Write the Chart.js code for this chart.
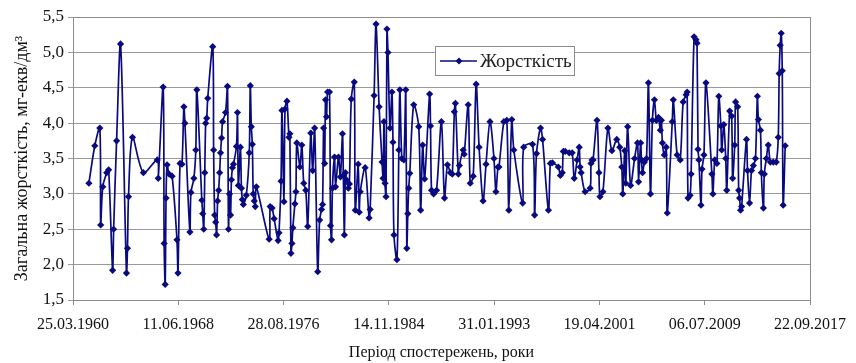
<!DOCTYPE html>
<html>
<head>
<meta charset="utf-8">
<title>Жорсткість</title>
<script src="https://cdn.jsdelivr.net/npm/chart.js@4/dist/chart.umd.min.js"></script>
<style>
  html, body { margin: 0; padding: 0; background: #fff; }
  #wrap { width: 856px; height: 363px; }
</style>
</head>
<body>
<div id="wrap"><canvas id="hardnessChart"></canvas></div>
<script>
// Observation dates as decimal years, hardness values (mg-eq/dm3)
const obsYears = [
  1961.47, 1961.93, 1962.32, 1962.39, 1962.55, 1962.86, 1963.01, 1963.32, 1963.40, 1963.63,
  1963.94, 1964.40, 1964.48, 1964.56, 1964.87, 1965.72, 1966.80, 1966.88, 1967.26, 1967.34,
  1967.42, 1967.49, 1967.57, 1967.73, 1967.96, 1968.34, 1968.42, 1968.58, 1968.73, 1968.88,
  1968.96, 1969.35, 1969.43, 1969.66, 1969.81, 1969.89, 1970.28, 1970.35, 1970.43, 1970.51,
  1970.58, 1970.66, 1970.74, 1971.13, 1971.20, 1971.28, 1971.36, 1971.43, 1971.51, 1971.59,
  1971.67, 1971.74, 1971.82, 1971.90, 1972.13, 1972.28, 1972.36, 1972.44, 1972.52, 1972.59,
  1972.67, 1972.75, 1972.98, 1973.06, 1973.13, 1973.29, 1973.37, 1973.44, 1973.52, 1973.75,
  1973.98, 1974.06, 1974.14, 1974.22, 1974.29, 1974.37, 1974.45, 1974.53, 1975.53, 1975.61,
  1975.76, 1975.92, 1976.23, 1976.30, 1976.46, 1976.53, 1976.69, 1976.77, 1976.92, 1977.08,
  1977.15, 1977.23, 1977.31, 1977.38, 1977.54, 1977.62, 1977.69, 1977.93, 1978.08, 1978.23,
  1978.39, 1978.54, 1978.78, 1978.93, 1979.08, 1979.32, 1979.47, 1979.62, 1979.70, 1979.78,
  1979.86, 1979.93, 1980.01, 1980.09, 1980.24, 1980.32, 1980.40, 1980.47, 1980.63, 1980.71,
  1980.94, 1981.09, 1981.25, 1981.32, 1981.40, 1981.48, 1981.56, 1981.71, 1981.79, 1981.94,
  1982.17, 1982.25, 1982.48, 1982.56, 1982.64, 1983.02, 1983.33, 1983.41, 1983.72, 1983.87,
  1984.11, 1984.34, 1984.42, 1984.49, 1984.57, 1984.65, 1984.72, 1984.80, 1984.96, 1985.11,
  1985.19, 1985.27, 1985.50, 1985.65, 1985.73, 1985.88, 1986.04, 1986.19, 1986.27, 1986.35,
  1986.42, 1986.50, 1986.81, 1987.20, 1987.35, 1987.51, 1987.66, 1988.05, 1988.12, 1988.20,
  1988.36, 1988.59, 1988.97, 1989.21, 1989.44, 1989.67, 1989.82, 1989.98, 1990.06, 1990.29,
  1990.37, 1990.67, 1990.75, 1991.06, 1991.22, 1991.45, 1991.68, 1991.91, 1992.22, 1992.45,
  1992.76, 1993.07, 1993.22, 1993.38, 1993.46, 1993.84, 1994.07, 1994.23, 1994.46, 1994.62,
  1995.31, 1995.39, 1996.08, 1996.24, 1996.39, 1996.70, 1996.86, 1997.32, 1997.47, 1997.63,
  1998.09, 1998.25, 1998.40, 1998.48, 1998.63, 1998.94, 1999.17, 1999.33, 1999.56, 1999.72,
  1999.79, 1999.87, 2000.18, 2000.57, 2000.64, 2000.72, 2000.80, 2001.11, 2001.26, 2001.34,
  2001.57, 2001.96, 2002.27, 2002.65, 2002.88, 2003.04, 2003.12, 2003.27, 2003.35, 2003.50,
  2003.73, 2004.04, 2004.27, 2004.35, 2004.51, 2004.58, 2004.66, 2004.81, 2004.97, 2005.12,
  2005.28, 2005.43, 2005.59, 2005.74, 2005.90, 2006.05, 2006.13, 2006.21, 2006.36, 2006.51,
  2006.59, 2006.98, 2007.06, 2007.36, 2007.60, 2007.83, 2008.06, 2008.14, 2008.21, 2008.37,
  2008.45, 2008.68, 2008.83, 2008.91, 2008.99, 2009.06, 2009.22, 2009.30, 2009.45, 2009.61,
  2010.07, 2010.15, 2010.30, 2010.46, 2010.61, 2010.77, 2010.84, 2011.00, 2011.15, 2011.23,
  2011.46, 2011.61, 2011.69, 2011.85, 2011.92, 2012.08, 2012.16, 2012.23, 2012.31, 2012.39,
  2012.77, 2012.85, 2013.01, 2013.16, 2013.31, 2013.47, 2013.62, 2013.70, 2013.86, 2013.93,
  2014.09, 2014.16, 2014.32, 2014.47, 2014.63, 2014.86, 2015.09, 2015.25, 2015.32, 2015.40,
  2015.48, 2015.56, 2015.63, 2015.79
];

const hardness = [
  3.15, 3.68, 3.93, 2.56, 3.10, 3.30, 3.34, 1.92, 2.50, 3.75,
  5.12, 1.88, 2.23, 2.96, 3.80, 3.30, 3.48, 3.22, 4.51, 2.30,
  1.72, 2.94, 3.41, 3.28, 3.25, 2.35, 1.88, 3.43, 3.42, 4.23,
  4.00, 2.46, 3.02, 3.22, 3.62, 4.47, 2.91, 2.72, 2.50, 3.30,
  4.00, 4.07, 4.35, 5.08, 3.62, 2.70, 2.60, 2.42, 2.90, 3.05,
  3.30, 3.58, 3.79, 4.02, 4.15, 4.52, 2.50, 3.00, 2.70, 3.20,
  3.37, 3.42, 3.67, 4.15, 3.12, 3.66, 3.08, 2.92, 2.85, 2.98,
  3.58, 4.53, 3.95, 3.70, 3.00, 2.90, 2.82, 3.10, 2.36, 2.82,
  2.80, 2.65, 2.34, 2.45, 3.18, 4.18, 2.89, 4.20, 4.31, 3.80,
  3.85, 2.16, 2.30, 2.52, 2.86, 3.03, 3.72, 3.38, 3.69, 3.15,
  3.05, 2.54, 3.86, 3.33, 3.93, 1.90, 2.63, 2.78, 2.85, 3.93,
  3.43, 4.33, 4.09, 4.44, 4.44, 2.55, 2.35, 3.08, 3.52, 3.10,
  3.52, 3.24, 3.85, 3.26, 2.42, 3.30, 3.20, 3.08, 3.14, 4.34,
  4.58, 2.77, 3.42, 2.74, 3.03, 3.37, 2.66, 2.78, 4.39, 5.40,
  4.23, 3.45, 3.22, 4.02, 3.15, 2.96, 5.33, 5.00, 3.93, 4.44,
  3.73, 2.42, 2.07, 3.62, 4.47, 3.50, 3.48, 4.47, 2.23, 2.72,
  3.08, 3.29, 4.26, 3.95, 2.77, 3.69, 3.21, 4.41, 3.96, 3.05,
  3.00, 3.05, 4.02, 2.94, 3.41, 3.30, 3.28, 4.16, 4.28, 3.28,
  3.40, 3.62, 3.56, 4.26, 3.15, 3.25, 4.55, 3.66, 2.90, 3.42,
  4.02, 3.50, 3.03, 3.38, 3.38, 4.02, 4.04, 2.77, 4.05, 3.62,
  2.87, 3.66, 3.70, 2.70, 3.57, 3.93, 3.77, 2.77, 3.43, 3.44,
  3.38, 3.26, 3.30, 3.60, 3.60, 3.58, 3.58, 3.22, 3.48, 3.66,
  3.38, 3.30, 3.03, 3.08, 3.43, 3.48, 3.48, 4.04, 3.30, 2.96,
  3.03, 3.93, 3.61, 3.77, 3.66, 3.38, 3.00, 3.61, 3.15, 3.95,
  3.12, 3.50, 3.72, 3.17, 3.72, 3.48, 3.30, 3.45, 3.50, 4.57,
  3.00, 4.04, 4.33, 4.04, 4.08, 3.90, 4.04, 3.72, 3.55, 3.66,
  2.73, 4.02, 4.33, 3.55, 3.48, 4.30, 4.40, 4.44, 2.94, 2.98,
  3.28, 5.22, 5.18, 5.13, 3.63, 3.48, 2.84, 3.35, 3.55, 4.57,
  3.28, 3.00, 3.48, 3.43, 4.38, 3.96, 3.62, 3.98, 3.50, 3.05,
  4.17, 4.10, 3.22, 3.69, 4.30, 4.23, 3.05, 2.94, 2.77, 2.82,
  3.77, 3.33, 2.87, 3.33, 3.40, 3.50, 4.38, 4.05, 3.90, 3.30,
  2.80, 3.28, 3.50, 3.69, 3.45, 3.45, 3.45, 3.80, 4.70, 5.10,
  5.27, 4.74, 2.84, 3.68
];

// Date axis: Excel-style major unit of 3000 days starting at 25.03.1960
const tickLabels = ['25.03.1960', '11.06.1968', '28.08.1976', '14.11.1984',
                    '31.01.1993', '19.04.2001', '06.07.2009', '22.09.2017'];
const X_START = 1960 + 84 / 366;      // 25.03.1960 as decimal year
const X_STEP = 3000 / 365.25;         // 3000 days in years

const SERIES_NAME = 'Жорсткість';
const LINE_COLOR = '#0a0a80';
const FONT = '"Liberation Serif", "Times New Roman", serif';

// Frame round the plot area (right edge is otherwise missing)
const plotFrame = {
  id: 'plotFrame',
  beforeDatasetsDraw(chart) {
    const { ctx, chartArea: a } = chart;
    ctx.save();
    ctx.strokeStyle = '#8c8c8c';
    ctx.lineWidth = 1;
    ctx.strokeRect(Math.round(a.left) + 0.5, Math.round(a.top) + 0.5,
                   Math.round(a.right - a.left), Math.round(a.bottom - a.top));
    ctx.restore();
  }
};

// Legend box inside the plot, like the Excel one
const legendBox = {
  id: 'legendBox',
  afterDraw(chart) {
    const ctx = chart.ctx;
    const bx = 435, by = 46, bw = 139, bh = 29;
    ctx.save();
    ctx.fillStyle = '#fff';
    ctx.fillRect(bx, by, bw, bh);
    ctx.strokeStyle = '#8c8c8c';
    ctx.lineWidth = 1;
    ctx.strokeRect(bx + 0.5, by + 0.5, bw, bh);
    const cy = by + bh / 2 + 0.5;
    ctx.strokeStyle = LINE_COLOR;
    ctx.lineWidth = 1.6;
    ctx.beginPath();
    ctx.moveTo(bx + 5, cy);
    ctx.lineTo(bx + 42, cy);
    ctx.stroke();
    ctx.fillStyle = LINE_COLOR;
    ctx.beginPath();
    const mx = bx + 24, r = 3.5;
    ctx.moveTo(mx, cy - r); ctx.lineTo(mx + r, cy); ctx.lineTo(mx, cy + r); ctx.lineTo(mx - r, cy);
    ctx.closePath();
    ctx.fill();
    ctx.fillStyle = '#222';
    ctx.font = '19px ' + FONT;
    ctx.textBaseline = 'middle';
    ctx.fillText(SERIES_NAME, bx + 45, cy + 1);
    ctx.restore();
  }
};

const points = obsYears.map((t, i) => ({ x: t, y: hardness[i] }));

new Chart(document.getElementById('hardnessChart'), {
  type: 'line',
  data: {
    datasets: [{
      label: SERIES_NAME,
      data: points,
      borderColor: LINE_COLOR,
      backgroundColor: LINE_COLOR,
      borderWidth: 1.7,
      tension: 0.3,
      pointStyle: 'rectRot',
      pointRadius: 3.6,
      pointBorderWidth: 0,
      pointBackgroundColor: LINE_COLOR
    }]
  },
  options: {
    responsive: true,
    maintainAspectRatio: false,
    animation: false,
    layout: { padding: { top: 17, right: 41, left: 0, bottom: 0 } },
    plugins: {
      legend: { display: false },
      tooltip: { enabled: false }
    },
    scales: {
      x: {
        type: 'linear',
        min: X_START,
        max: X_START + X_STEP * (tickLabels.length - 1),
        afterBuildTicks: (scale) => {
          scale.ticks = tickLabels.map((_, i) => ({ value: X_START + i * X_STEP }));
        },
        afterFit: (scale) => { scale.height = 63; },
        grid: { drawOnChartArea: false, drawTicks: true, tickLength: 5, color: '#8c8c8c' },
        border: { color: '#8c8c8c' },
        ticks: {
          autoSkip: false,
          maxRotation: 0,
          padding: 10,
          color: '#111',
          font: { family: FONT, size: 16 },
          callback: (value, index) => tickLabels[index]
        },
        title: {
          display: true,
          text: 'Період спостережень, роки',
          color: '#111',
          font: { family: FONT, size: 16 },
          padding: { top: 0, bottom: 1 }
        }
      },
      y: {
        min: 1.5,
        max: 5.5,
        afterFit: (scale) => { scale.width = 73; },
        grid: { color: '#9a9a9a', tickLength: 5 },
        border: { color: '#8c8c8c' },
        ticks: {
          stepSize: 0.5,
          padding: 4,
          color: '#111',
          font: { family: FONT, size: 17 },
          callback: (value) => value.toFixed(1).replace('.', ',')
        },
        title: {
          display: true,
          text: 'Загальна жорсткість, мг-екв/дм³',
          color: '#111',
          font: { family: FONT, size: 18 },
          padding: { top: 11, bottom: 0 }
        }
      }
    }
  },
  plugins: [plotFrame, legendBox]
});
</script>
</body>
</html>
